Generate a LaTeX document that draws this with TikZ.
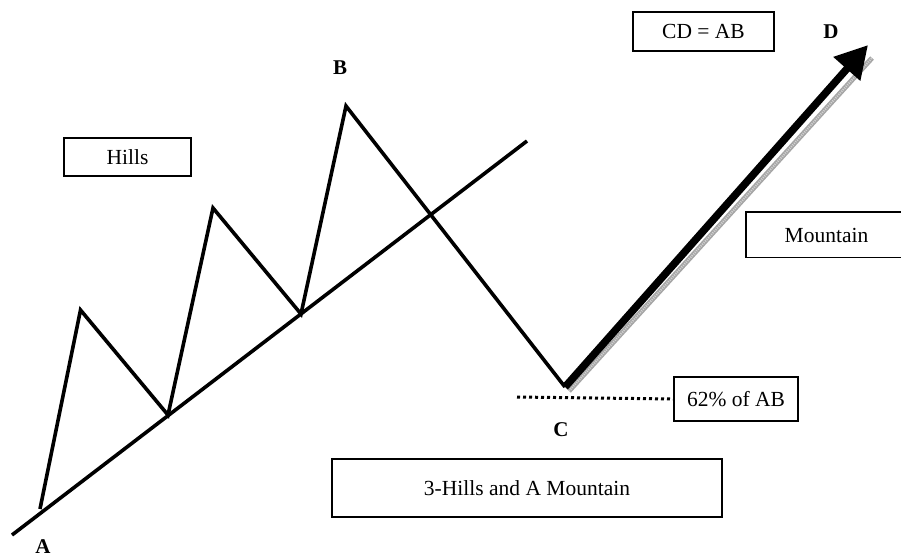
\documentclass[tikz,border=0pt]{standalone}
\usepackage{fontspec}
\setmainfont{Liberation Serif}
\usetikzlibrary{arrows.meta}
\begin{document}
\begin{tikzpicture}[x=1pt,y=-1pt,
  zig/.style={line width=3.6pt,line join=miter},
  lbl/.style={font=\fontsize{21}{21}\selectfont\bfseries,inner sep=0pt},
  tbox/.style={draw,line width=1.5pt,font=\fontsize{21.5}{21.5}\selectfont,inner sep=0pt,anchor=center},
  dotline/.style={line width=3pt,dash pattern=on 3pt off 3pt}]
\useasboundingbox (0,0) rectangle (901,557);
\clip (0,0) rectangle (901,557);
% points
\coordinate (pA) at (40,509);
\coordinate (p1) at (80.5,310);
\coordinate (t1) at (168,415);
\coordinate (p2) at (213,208);
\coordinate (t2) at (301,314);
\coordinate (pB) at (346,106);
\coordinate (pC) at (565,387);
\coordinate (pD) at (868,45);
\coordinate (tl1) at (12,535);
\coordinate (tl2) at (527,141);
\coordinate (sh1) at (569,391);
\coordinate (sh2) at (872,58);
\coordinate (dl) at (517,397);
% trend line and zigzag
\draw[zig] (tl1) -- (tl2);
\draw[zig] (pA) -- (p1) -- (t1) -- (p2) -- (t2) -- (pB) -- (pC);
% shadow of arrow
\draw[line width=5pt,gray!70] (sh1) -- (sh2);
\draw[line width=2pt,gray!35,dash pattern=on 1pt off 1.2pt] (sh1) -- (sh2);
% main arrow
\draw[line width=7.5pt,-{Triangle[length=32pt,width=34pt]}] (pC) -- (pD);
% boxes
\node[tbox,minimum width=127pt,minimum height=38pt] (hills) at (127.5,157) {Hills};
\node[tbox,minimum width=141pt,minimum height=39pt] (cdab) at (703.5,31.5) {CD = AB};
\node[tbox,minimum width=124pt,minimum height=44pt] (pct) at (736,399) {62\% of AB};
\node[tbox,minimum width=390pt,minimum height=58pt] (title) at (527,488) {3-Hills and A Mountain};
\draw[line width=1.5pt] (910,212) -- (746,212) -- (746,257.5) -- (910,257.5);
\node[font=\fontsize{21.5}{21.5}\selectfont,inner sep=0pt] (mtn) at (826.5,235) {Mountain};
% dotted line
\draw[dotline] (dl) -- (pct.west);
% point labels
\node[lbl] (lA) at (43,547) {A};
\node[lbl] (lB) at (340,68) {B};
\node[lbl] (lC) at (561,430) {C};
\node[lbl] (lD) at (831,32) {D};
\end{tikzpicture}
\end{document}
